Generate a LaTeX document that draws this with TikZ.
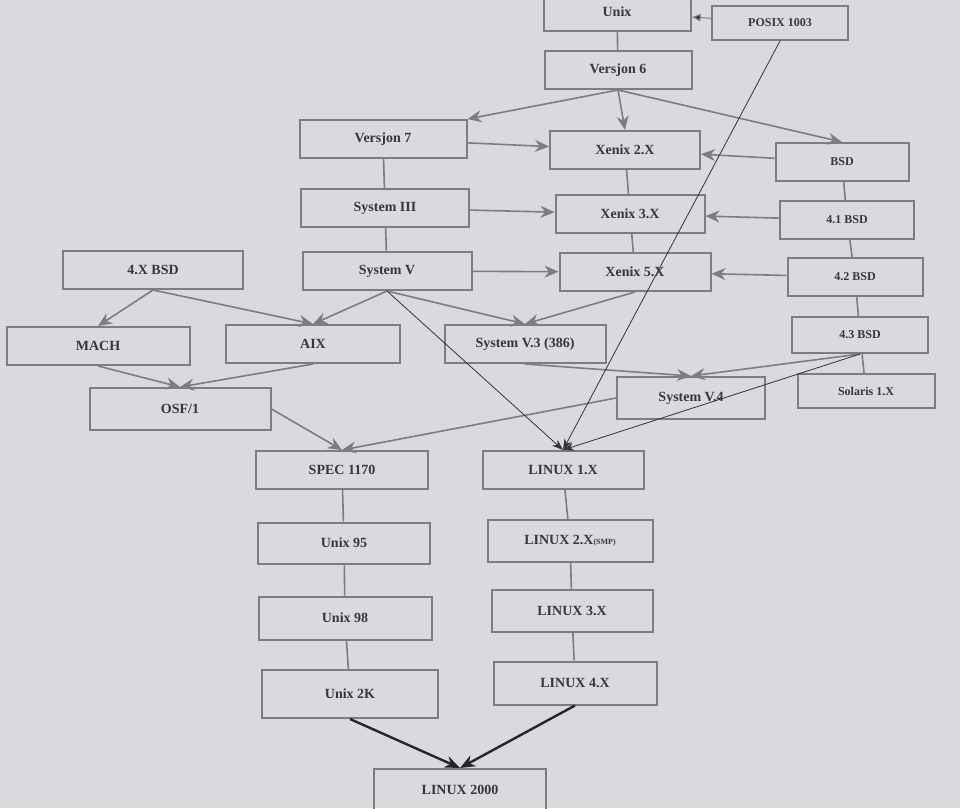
\documentclass[tikz,border=0pt]{standalone}
\usepackage{fontspec}
\setmainfont{Liberation Serif}
\usetikzlibrary{arrows.meta}
\definecolor{paper}{RGB}{216,218,222}
\definecolor{edge}{RGB}{125,125,128}
\definecolor{ink}{RGB}{55,55,58}
\begin{document}
\begin{tikzpicture}[x=1pt,y=-1pt,
  box/.style={draw=edge,line width=2pt,minimum width=#1,minimum height=38pt,inner sep=0pt,font=\bfseries\fontsize{14}{16}\selectfont,text=ink},
  box/.default=160pt,
  ga/.style={draw=edge,line width=1.6pt,-{Stealth[length=14pt,width=12pt]}},
  gl/.style={draw=edge,line width=1.6pt},
  ba/.style={draw=black!80,line width=0.8pt,-{Stealth[length=11pt,width=8pt]}},
  ta/.style={draw=black!85,line width=2.4pt,-{Stealth[length=15pt,width=12pt]}}]
\fill[paper] (0,0) rectangle (960,808);
\useasboundingbox (0,0) rectangle (960,808);
\node[box=147pt] (unix) at (617,12) {Unix};
\node[box=136pt,minimum height=34pt] (posix) at (780,23) {\fontsize{12}{14}\selectfont POSIX 1003};
\node[box=147pt] (v6) at (618,70) {Versjon 6};
\node[box=167pt] (v7) at (383,139) {Versjon 7};
\node[box=150pt] (x2) at (625,150) {Xenix 2.X};
\node[box=133pt] (bsd) at (842,162) {\fontsize{12}{14}\selectfont BSD};
\node[box=168pt] (s3) at (385,208) {System III};
\node[box=149pt] (x3) at (630,214) {Xenix 3.X};
\node[box=134pt] (b41) at (847,220) {\fontsize{12}{14}\selectfont 4.1 BSD};
\node[box=180pt] (b4x) at (153,270) {4.X BSD};
\node[box=169pt] (s5) at (387,271) {System V};
\node[box=151pt] (x5) at (635,272) {Xenix 5.X};
\node[box=135pt] (b42) at (855,277) {\fontsize{12}{14}\selectfont 4.2 BSD};
\node[box=183pt] (mach) at (98,346) {MACH};
\node[box=174pt] (aix) at (313,344) {AIX};
\node[box=161pt] (s53) at (525,344) {System V.3 (386)};
\node[box=136pt,minimum height=36pt] (b43) at (860,335) {\fontsize{12}{14}\selectfont 4.3 BSD};
\node[box=137pt,minimum height=34pt] (sol) at (866,391) {\fontsize{12}{14}\selectfont Solaris 1.X};
\node[box=181pt,minimum height=42pt] (osf) at (180,409) {OSF/1};
\node[box=148pt,minimum height=42pt] (s54) at (691,398) {System V.4};
\node[box=172pt] (spec) at (342,470) {SPEC 1170};
\node[box=161pt] (l1) at (563,470) {LINUX 1.X};
\node[box=172pt,minimum height=41pt] (u95) at (344,543) {Unix 95};
\node[box=165pt,minimum height=42pt] (l2) at (570,541) {LINUX 2.X{\fontsize{8}{9}\selectfont (SMP)}};
\node[box=173pt,minimum height=43pt] (u98) at (345,618) {Unix 98};
\node[box=161pt,minimum height=42pt] (l3) at (572,611) {LINUX 3.X};
\node[box=176pt,minimum height=48pt] (u2k) at (350,694) {Unix 2K};
\node[box=163pt,minimum height=43pt] (l4) at (575,683) {LINUX 4.X};
\node[box=172pt,minimum height=42pt] (l2000) at (460,790) {LINUX 2000};
\draw[draw=edge,line width=1pt,-{Latex[length=9pt,width=8pt,fill=black!80]}] (posix) -- (unix);
\draw[gl] (unix) -- (v6);
\draw[ga] (v6.south) -- (v7.north east);
\draw[ga] (v6.south) -- (x2.north);
\draw[ga] (v6.south) -- (bsd.north);
\draw[ga] (v7) -- (x2);
\draw[gl] (v7) -- (s3);
\draw[ga] (s3) -- (x3);
\draw[gl] (s3) -- (s5);
\draw[ga] (s5) -- (x5);
\draw[ga] (bsd) -- (x2);
\draw[ga] (b41) -- (x3);
\draw[ga] (b42) -- (x5);
\draw[gl] (bsd) -- (b41);
\draw[gl] (b41) -- (b42);
\draw[gl] (b42) -- (b43);
\draw[gl] (b43) -- (sol);
\draw[gl] (x2) -- (x3);
\draw[gl] (x3) -- (x5);
\draw[ga] (b4x.south) -- (mach.north);
\draw[ga] (b4x.south) -- (aix.north);
\draw[ga] (s5.south) -- (aix.north);
\draw[ga] (s5.south) -- (s53.north);
\draw[ga] (x5.south) -- (s53.north);
\draw[ga] (s53.south) -- (s54.north);
\draw[ga] (b43.south) -- (s54.north);
\draw[ga] (mach.south) -- (osf.north);
\draw[ga] (aix.south) -- (osf.north);
\draw[ga] (osf.east) -- (spec.north);
\draw[ga] (s54.west) -- (spec.north);
\draw[ba] (s5.south) -- (l1.north);
\draw[ba] (posix.south) -- (l1.north);
\draw[ba] (b43.south) -- (l1.north);
\draw[gl] (spec) -- (u95);
\draw[gl] (u95) -- (u98);
\draw[gl] (u98) -- (u2k);
\draw[gl] (l1) -- (l2);
\draw[gl] (l2) -- (l3);
\draw[gl] (l3) -- (l4);
\draw[ta] (u2k.south) -- (l2000.north);
\draw[ta] (l4.south) -- (l2000.north);
\end{tikzpicture}
\end{document}
